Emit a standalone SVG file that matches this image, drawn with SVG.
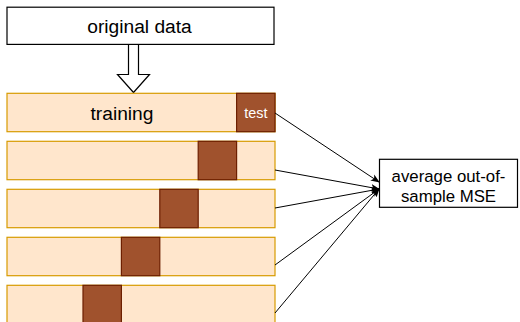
<svg xmlns="http://www.w3.org/2000/svg" width="520" height="322" viewBox="0 0 520 322">
  <style>
    text { font-family: "Liberation Sans", Arial, Helvetica, sans-serif; fill: #000; text-anchor: middle; }
    .plain { fill: #ffffff; stroke: #000000; stroke-width: 1.2; }
    .fold { fill: #ffe6cc; stroke: #d79b00; stroke-width: 1.2; }
    .held { fill: #a0522d; stroke: #6d1f00; stroke-width: 1.2; }
    .edge { fill: none; stroke: #000000; stroke-width: 1; marker-end: url(#head); }
  </style>
  <defs>
    <marker id="head" viewBox="0 0 10 10" refX="9" refY="5" markerWidth="9" markerHeight="9" markerUnits="userSpaceOnUse" orient="auto">
      <path d="M0,1 L10,5 L0,9 L2.5,5 Z" fill="#000"/>
    </marker>
  </defs>

  <g id="original-data">
    <rect class="plain" x="7" y="7.2" width="267" height="37.2"/>
    <text x="139.5" y="33" font-size="19.2">original data</text>
  </g>

  <g id="split-arrow">
    <path d="M128.5,44.5 L138.5,44.5 L138.5,74.5 L149.5,74.5 L133.5,92.5 L117.5,74.5 L128.5,74.5 Z" fill="#ffffff" stroke="#000000" stroke-width="1.2"/>
  </g>

  <g id="fold-1">
    <rect class="fold" x="7" y="93.3" width="268" height="38.4"/>
    <rect class="held" x="236.6" y="93.3" width="38.4" height="38.4"/>
    <text x="122" y="119.5" font-size="19.2">training</text>
    <text x="255.8" y="117.8" font-size="14.4" style="fill:#ffffff">test</text>
  </g>

  <g id="fold-2">
    <rect class="fold" x="7" y="141.3" width="268" height="38.4"/>
    <rect class="held" x="198.2" y="141.3" width="38.4" height="38.4"/>
  </g>

  <g id="fold-3">
    <rect class="fold" x="7" y="189.3" width="268" height="38.4"/>
    <rect class="held" x="159.8" y="189.3" width="38.4" height="38.4"/>
  </g>

  <g id="fold-4">
    <rect class="fold" x="7" y="237.3" width="268" height="38.4"/>
    <rect class="held" x="121.4" y="237.3" width="38.4" height="38.4"/>
  </g>

  <g id="fold-5">
    <rect class="fold" x="7" y="285.3" width="268" height="38.4"/>
    <rect class="held" x="83" y="285.3" width="38.4" height="38.4"/>
  </g>

  <g id="average-mse">
    <rect class="plain" x="379.5" y="159.3" width="138" height="48"/>
    <text x="448.5" y="181.5" font-size="16.8">average out-of-</text>
    <text x="448.5" y="201.5" font-size="16.8">sample MSE</text>
  </g>

  <g id="connectors">
    <path class="edge" d="M275,113 L379,182"/>
    <path class="edge" d="M275,170 L379,189"/>
    <path class="edge" d="M275,208 L379,189"/>
    <path class="edge" d="M275,265 L379,189"/>
    <path class="edge" d="M275,313 L379,189"/>
  </g>
</svg>
